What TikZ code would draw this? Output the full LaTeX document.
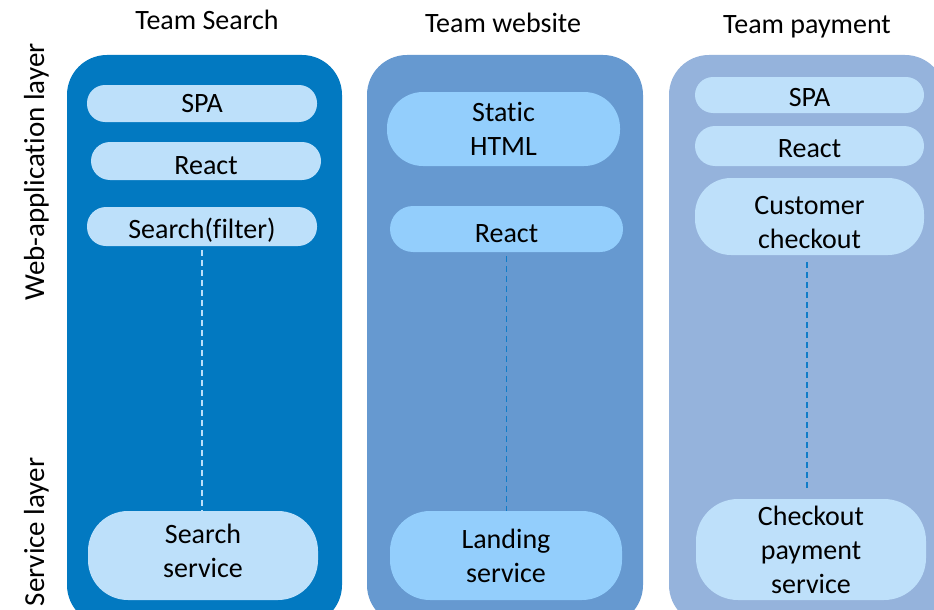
\documentclass[tikz,border=0pt]{standalone}
\usepackage{fontspec}
\setmainfont[Ligatures=NoCommon]{Carlito}
\definecolor{teamA}{RGB}{2,121,193}
\definecolor{teamB}{RGB}{102,153,208}
\definecolor{teamC}{RGB}{149,179,220}
\definecolor{pillA}{RGB}{189,224,250}
\definecolor{pillB}{RGB}{147,206,252}
\definecolor{pillC}{RGB}{190,224,250}
\definecolor{linkdark}{RGB}{16,124,200}
\tikzset{
  lane/.style={rounded corners=40pt},
  pill/.style={rectangle, inner sep=0pt, align=center, text=black,
    font=\fontsize{28}{34}\selectfont},
  title/.style={anchor=base, font=\fontsize{28}{34}\selectfont},
  layer/.style={anchor=base, rotate=90, font=\fontsize{29}{34}\selectfont},
  link/.style={dash pattern=on 6pt off 4pt, line width=1.3pt},
}
\begin{document}
\begin{tikzpicture}[x=1pt,y=-1pt]
\useasboundingbox (0,0) rectangle (934,610);
\fill[white] (0,0) rectangle (934,610);

% team lanes
\fill[teamA, lane] (67,55) rectangle (342,625);
\fill[teamB, lane] (367,55) rectangle (643,625);
\fill[teamC, lane] (669,55) rectangle (945,625);

% titles
\node[title] (tA) at (207,30) {Team Search};
\node[title] (tB) at (503,33) {Team website};
\node[title] (tC) at (807,34) {Team payment};

% layer labels
\node[layer] (lweb) at (44,172) {Web-application layer};
\node[layer] (lsvc) at (44,532) {Service layer};

% Team Search
\node[pill, fill=pillA, rounded corners=18pt, minimum width=230pt, minimum height=37pt] (a1) at (202,103.5) {SPA};
\node[pill, fill=pillA, rounded corners=19pt, minimum width=230pt, minimum height=38pt,
      text height=26pt, text depth=0pt] (a2) at (206,161) {React};
\node[pill, fill=pillA, rounded corners=19pt, minimum width=230pt, minimum height=39pt,
      text height=23pt, text depth=0pt] (a3) at (202,226.5) {Search(filter)};
\node[pill, fill=pillA, rounded corners=40pt, minimum width=230pt, minimum height=89pt,
      text height=43pt, text depth=0pt] (a4) at (203,555.5) {Search\\service};

% Team website
\node[pill, fill=pillB, rounded corners=36pt, minimum width=233pt, minimum height=74pt] (b1) at (503.5,129) {Static\\HTML};
\node[pill, fill=pillB, rounded corners=23pt, minimum width=233pt, minimum height=46pt,
      text height=26pt, text depth=0pt] (b2) at (506.5,229) {React};
\node[pill, fill=pillB, rounded corners=40pt, minimum width=232pt, minimum height=89pt] (b3) at (506,555.5) {Landing\\service};

% Team payment
\node[pill, fill=pillC, rounded corners=18pt, minimum width=229pt, minimum height=36pt,
      text height=22pt, text depth=0pt] (c1) at (809.5,95) {SPA};
\node[pill, fill=pillC, rounded corners=20pt, minimum width=229pt, minimum height=40pt,
      text height=22pt, text depth=0pt] (c2) at (809.5,146) {React};
\node[pill, fill=pillC, rounded corners=36pt, minimum width=229pt, minimum height=77pt,
      text height=63pt, text depth=0pt] (c3) at (809.5,216.5) {Customer\\checkout};
\node[pill, fill=pillC, rounded corners=42pt, minimum width=230pt, minimum height=101pt] (c4) at (811,549.5) {Checkout\\payment\\service};

% links between web-application and service layers
\draw[link, pillA] ([yshift=-4pt]a3.south) -- (a3.south |- a4.north);
\draw[link, linkdark] ([yshift=-4pt]b2.south) -- (b2.south |- b3.north);
\draw[link, linkdark] ([xshift=-2.5pt,yshift=-7pt]c3.south) -- ([xshift=-2.5pt,yshift=8pt]c3.south |- c4.north);
\end{tikzpicture}
\end{document}
